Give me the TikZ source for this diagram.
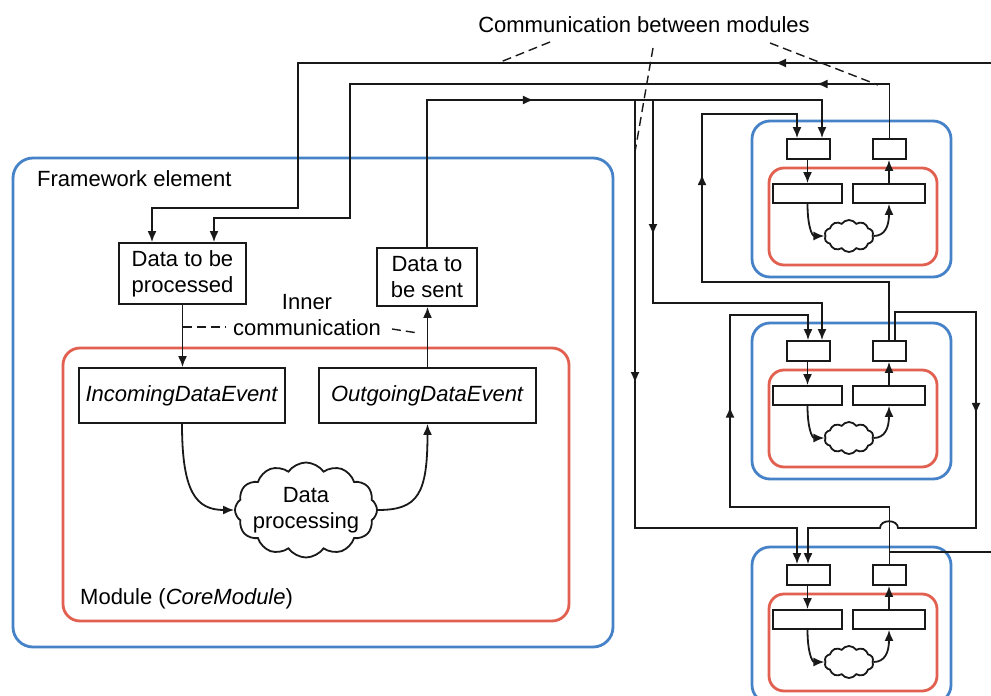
\documentclass[tikz,border=0pt]{standalone}
\usepackage{fontspec}
\setmainfont{Liberation Sans}
\usetikzlibrary{arrows.meta,shapes.symbols,decorations.markings}
\definecolor{frameblue}{RGB}{70,130,200}
\definecolor{modred}{RGB}{226,96,80}
\definecolor{ink}{RGB}{25,25,25}
\tikzset{
  wire/.style={line width=1.8pt, color=ink},
  arrowend/.style={-{Latex[length=11pt,width=9pt]}},
  midarr/.style={postaction={decorate,decoration={markings,
      mark=at position #1 with {\arrow{Latex[length=11pt,width=9pt]}}}}},
  blk/.style={draw=ink, line width=1.8pt, inner sep=0pt, align=center},
  fw/.style={draw=frameblue, line width=2.8pt, rounded corners=20pt},
  md/.style={draw=modred, line width=2.8pt, rounded corners=17pt},
  puff/.style={cloud, cloud puffs=11, cloud puff arc=110, cloud ignores aspect,
      draw=ink, line width=1.8pt, inner sep=0pt},
  dashlink/.style={draw=ink, line width=1.4pt, dash pattern=on 9pt off 5pt},
  lbl/.style={inner sep=0pt},
}
\begin{document}
\begin{tikzpicture}[x=1pt,y=-1pt, font=\fontsize{22}{26}\selectfont]
\path[use as bounding box, fill=white] (0,0) rectangle (991,696);
\clip (0,0) rectangle (991,696);

% ---------- framework element with its core module ----------
\draw[fw] (13,158) rectangle (613,647);
\draw[md] (63,348) rectangle (569,621);
\node[lbl, anchor=west] (fwlabel) at (37,179) {Framework element};
\node[lbl, anchor=west] (modlabel) at (80,599) {Module (\textit{CoreModule})};

\node[blk, minimum width=127pt, minimum height=61pt] (dtbp) at (182.5,273.5) {Data to be\\processed};
\node[blk, minimum width=100pt, minimum height=58pt] (dtbs) at (427,277) {Data to\\be sent};
\node[blk, minimum width=206pt, minimum height=55pt] (inev) at (182,395.5) {\textit{IncomingDataEvent}};
\node[blk, minimum width=217pt, minimum height=55pt] (outev) at (427.5,395.5) {\textit{OutgoingDataEvent}};
\node[puff, cloud puffs=12, minimum width=142pt, minimum height=95pt] (proc) at (306,510) {};
\node[lbl, align=center] (proctext) at (proc) {Data\\processing};

\draw[wire,arrowend] (dtbp.south) -- (dtbp.south |- inev.north);
\draw[wire,arrowend] (outev.north) -- (outev.north |- dtbs.south);
\draw[wire,arrowend] (inev.south) .. controls (182,492) and (196,510) .. (proc.west);
\draw[wire,arrowend] (proc.east) .. controls (418,510) and (427.5,494) .. (outev.south);

% inner communication label
\node[lbl, align=center] (inner) at (307,315) {Inner\\communication};
\coordinate (icl1) at (183,327);
\coordinate (icl2) at (226,327);
\coordinate (icr1) at (392,329);
\coordinate (icr2) at (418,333);
\draw[dashlink] (icl1) -- (icl2);
\draw[dashlink] (icr1) -- (icr2);

% ---------- three connected modules ----------
\foreach \mname/\modoff in {t/0,m/202,b/426}{
  \draw[fw, rounded corners=18pt] (752,{121+\modoff}) rectangle (951,{277+\modoff});
  \draw[md, rounded corners=15pt] (769,{168+\modoff}) rectangle (937,{265+\modoff});
  \node[blk, minimum width=43pt, minimum height=20pt] (in\mname) at (808.5,{149+\modoff}) {};
  \node[blk, minimum width=33pt, minimum height=20pt] (out\mname) at (889.5,{149+\modoff}) {};
  \node[blk, minimum width=69pt, minimum height=19pt] (lev\mname) at (807.5,{193.5+\modoff}) {};
  \node[blk, minimum width=72pt, minimum height=19pt] (rev\mname) at (889,{193.5+\modoff}) {};
  \node[puff, cloud puffs=10, minimum width=49pt, minimum height=32pt] (cl\mname) at (849,{236+\modoff}) {};
  \draw[wire,arrowend] (lev\mname.north |- in\mname.south) -- (lev\mname.north);
  \draw[wire,arrowend] (lev\mname.south) .. controls (807.5,{226+\modoff}) and (812,{236+\modoff}) .. (cl\mname.west);
  \draw[wire,arrowend] (cl\mname.east) .. controls (885,{236+\modoff}) and (889,{226+\modoff}) .. (rev\mname.south);
  \draw[wire,arrowend] (rev\mname.north) -- (rev\mname.north |- out\mname.south);
}

% ---------- communication between modules ----------
\coordinate (wrapin) at (991,63);
\coordinate (wrapout) at (991,552);
\coordinate (busC) at (822,100);
\coordinate (tapD) at (635,100);
\coordinate (tapE) at (653,100);
\coordinate (splitI) at (889.5,552);

% last module -> framework element (wraps around)
\draw[wire,arrowend,midarr=216pt] (wrapin) -- (298,63) -- (298,208) -| ([xshift=-30.5pt]dtbp.north);
% first module -> framework element
\draw[wire,arrowend,midarr=127pt] (outt.north) -- (889.5,84) -- (350,84) -- (350,218) -| ([xshift=31.5pt]dtbp.north);
% framework element -> modules
\draw[wire,arrowend,midarr=254pt] (dtbs.north) |- (busC) -- ([xshift=13.5pt]int.north);
\draw[wire,arrowend,midarr=283pt] (tapD) -- (635,528) -| ([xshift=-11.5pt]inb.north);
\draw[wire,arrowend,midarr=135pt] (tapE) -- (653,303) -| ([xshift=13.5pt]inm.north);
% second module -> first and last modules
\draw[wire,arrowend,midarr=353pt] ([xshift=-0.5pt]outm.north) -- (889,282) -- (702,282) -- (702,114) -| ([xshift=-11.5pt]int.north);
\draw[wire,arrowend,midarr=211pt] ([xshift=5.5pt]outm.north) -- (895,312) -- (976,312) -- (976,528) -- (898,528)
   .. controls (898,519) and (880,519) .. (880,528) -| ([xshift=-0.5pt]inb.north);
% last module -> second module
\draw[wire,arrowend,midarr=317pt] (outb.north) -- (889.5,507) -- (730,507) -- (730,315) -| ([xshift=-0.5pt]inm.north);
\draw[wire] (splitI) -- (wrapout);

% label of the inter-module links
\node[lbl] (commlabel) at (644,25) {Communication between modules};
\draw[dashlink] (550,42) -- (498,63);
\draw[dashlink] (653,48) -- (635,152);
\draw[dashlink] (770,43) -- (878,85);
\end{tikzpicture}
\end{document}
